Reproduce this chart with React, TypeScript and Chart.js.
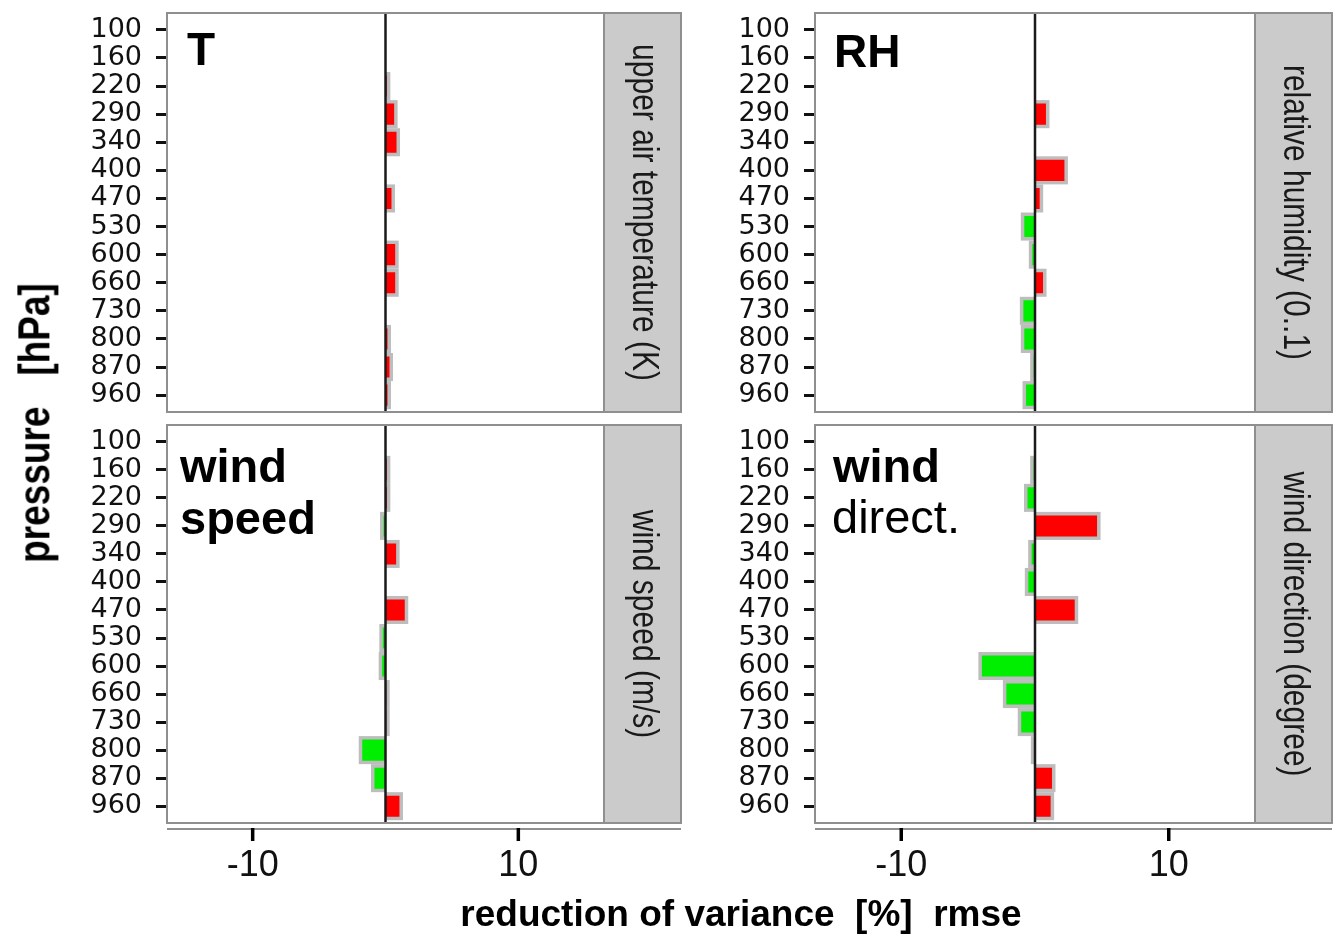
import React, { useEffect, useRef } from "react";
import { Chart, registerables } from "chart.js";

Chart.register(...registerables);

// ---------------- data ----------------
const LEVELS = ["100", "160", "220", "290", "340", "400", "470", "530", "600", "660", "730", "800", "870", "960"];
const T_VALUES: (number | null)[] = [null, null, 0.1, 0.65, 0.83, null, 0.45, null, 0.73, 0.73, null, 0.15, 0.3, 0.15];
const RH_VALUES: (number | null)[] = [null, null, null, 0.82, null, 2.2, 0.35, -0.8, -0.2, 0.6, -0.87, -0.8, -0.1, -0.67];
const WS_VALUES: (number | null)[] = [null, 0.1, 0.1, -0.15, 0.8, null, 1.45, -0.2, -0.25, 0.05, 0.05, -1.75, -0.83, 1.05];
const WD_VALUES: (number | null)[] = [null, -0.1, -0.56, 4.64, -0.25, -0.5, 2.97, null, -3.97, -2.14, -1.03, -0.05, 1.27, 1.17];
const X_TICKS = [-10, 10];
const X_MIN = -16.45;
const X_MAX = 16.45;

// ---------------- style ----------------
const RED = "#ff0000";
const GREEN = "#00ee00";
const HALO = "#bdbdbd";
const BORDER = "#8f8f8f";
const STRIP_FILL = "#cbcbcb";
const TEXT = "#111111";
const FONT = '"Liberation Sans", Arial, sans-serif';

const YAXIS_W = 110;
const STRIP_W = 77;
const TOP_PAD = 40;
const XAXIS_H = 60;
const HALO_W = 3.5;

Chart.defaults.font.family = FONT;

type LabelLine = { text: string; bold: boolean; size: number; dx: number; dy: number };
type PanelCfg = {
  values: (number | null)[];
  strip: string;
  lines: LabelLine[];
  PL: number;
  PT: number;
  PR: number;
  PB: number;
  bottom: boolean;
};

const PANELS: PanelCfg[] = [
  {
    values: T_VALUES,
    strip: "upper air temperature (K)",
    lines: [{ text: "T", bold: true, size: 46, dx: 20, dy: 52 }],
    PL: 167, PT: 13, PR: 604, PB: 412, bottom: false,
  },
  {
    values: RH_VALUES,
    strip: "relative humidity (0..1)",
    lines: [{ text: "RH", bold: true, size: 46, dx: 19, dy: 54 }],
    PL: 815, PT: 13, PR: 1255, PB: 412, bottom: false,
  },
  {
    values: WS_VALUES,
    strip: "wind speed (m/s)",
    lines: [
      { text: "wind", bold: true, size: 47, dx: 13, dy: 57 },
      { text: "speed", bold: true, size: 47, dx: 13, dy: 109 },
    ],
    PL: 167, PT: 425, PR: 604, PB: 823, bottom: true,
  },
  {
    values: WD_VALUES,
    strip: "wind direction (degree)",
    lines: [
      { text: "wind", bold: true, size: 47, dx: 18, dy: 57 },
      { text: "direct.", bold: false, size: 47, dx: 17, dy: 108 },
    ],
    PL: 815, PT: 425, PR: 1255, PB: 823, bottom: true,
  },
];

function geom(p: PanelCfg) {
  const e = (p.PB - p.PT) / 142;
  const left = p.PL - YAXIS_W;
  const top = p.PT - TOP_PAD;
  const width = p.PR - p.PL + YAXIS_W + STRIP_W + 12;
  const height = p.PB - p.PT + TOP_PAD + (p.bottom ? 100 : 40);
  const padBottom = p.bottom ? height - (p.PB - e - top) - XAXIS_H : height - (p.PB - e - top);
  return { e, left, top, width, height, padTop: TOP_PAD + e, padBottom };
}

function panelPlugin(p: PanelCfg) {
  return {
    id: "panelDecor",
    beforeDatasetsDraw(chart: any) {
      const ctx = chart.ctx;
      const meta = chart.getDatasetMeta(0);
      ctx.save();
      ctx.fillStyle = HALO;
      meta.data.forEach((el: any, i: number) => {
        const v = p.values[i];
        if (v == null) return;
        const { x, y, base, height } = el.getProps(["x", "y", "base", "height"], true);
        const s = v >= 0 ? 1 : -1;
        const x1 = x + s * HALO_W;
        ctx.fillRect(Math.min(base, x1), y - height / 2 - HALO_W, Math.abs(x1 - base), height + 2 * HALO_W);
      });
      ctx.restore();
    },
    afterDatasetsDraw(chart: any) {
      const ctx = chart.ctx;
      const ca = chart.chartArea;
      const band = (ca.bottom - ca.top) / LEVELS.length;
      const e = band * 0.1;
      const top = ca.top - e;
      const bot = ca.bottom + e;
      const xs = chart.scales.x;
      ctx.save();

      // zero line
      const x0 = xs.getPixelForValue(0);
      ctx.strokeStyle = "#1a1a1a";
      ctx.lineWidth = 2.5;
      ctx.beginPath();
      ctx.moveTo(x0, top);
      ctx.lineTo(x0, bot);
      ctx.stroke();

      // panel border
      ctx.strokeStyle = BORDER;
      ctx.lineWidth = 2;
      ctx.strokeRect(ca.left, top, ca.right - ca.left, bot - top);

      // strip
      ctx.fillStyle = STRIP_FILL;
      ctx.fillRect(ca.right, top, STRIP_W, bot - top);
      ctx.strokeRect(ca.right, top, STRIP_W, bot - top);

      ctx.save();
      ctx.translate(ca.right + STRIP_W / 2, (top + bot) / 2);
      ctx.rotate(Math.PI / 2);
      ctx.scale(1, 1.2);
      ctx.font = `30px ${FONT}`;
      ctx.fillStyle = "#1a1a1a";
      ctx.textAlign = "center";
      ctx.textBaseline = "middle";
      ctx.fillText(p.strip, 0, 0);
      ctx.restore();

      // panel label
      ctx.fillStyle = "#000";
      ctx.textAlign = "left";
      ctx.textBaseline = "alphabetic";
      p.lines.forEach((l) => {
        ctx.font = `${l.bold ? "bold " : ""}${l.size}px ${FONT}`;
        ctx.fillText(l.text, ca.left + l.dx, top + l.dy);
      });

      // x axis line & ticks (bottom row)
      if (p.bottom) {
        const ay = bot + 6;
        ctx.strokeStyle = BORDER;
        ctx.lineWidth = 2;
        ctx.beginPath();
        ctx.moveTo(ca.left, ay);
        ctx.lineTo(ca.right + STRIP_W, ay);
        ctx.stroke();
        ctx.strokeStyle = "#000";
        ctx.lineWidth = 3.5;
        xs.ticks.forEach((t: any) => {
          const px = xs.getPixelForValue(t.value);
          ctx.beginPath();
          ctx.moveTo(px, ay - 1);
          ctx.lineTo(px, ay + 12);
          ctx.stroke();
        });
      }
      ctx.restore();
    },
  };
}

function PanelChart({ p }: { p: PanelCfg }) {
  const ref = useRef<HTMLCanvasElement>(null);
  const g = geom(p);
  useEffect(() => {
    const canvas = ref.current;
    if (!canvas) return;
    const chart = new Chart(canvas, {
      type: "bar",
      data: {
        labels: LEVELS,
        datasets: [
          {
            data: p.values as any,
            backgroundColor: (c: any) => ((c.raw as number) >= 0 ? RED : GREEN),
            borderWidth: 0,
            categoryPercentage: 1,
            barPercentage: 0.75,
            inflateAmount: 0,
          } as any,
        ],
      },
      options: {
        indexAxis: "y",
        responsive: false,
        maintainAspectRatio: false,
        animation: false,
        events: [],
        layout: { padding: { left: 0, right: STRIP_W + 12, top: g.padTop, bottom: g.padBottom } },
        plugins: { legend: { display: false }, tooltip: { enabled: false }, title: { display: false } },
        scales: {
          y: {
            type: "category",
            offset: true,
            grid: { offset: false, drawOnChartArea: false, drawTicks: true, tickLength: 11, tickWidth: 3, tickColor: "#111" },
            border: { display: false },
            ticks: { autoSkip: false, padding: 14, color: TEXT, font: { family: "DejaVu Sans", size: 27 } },
            afterFit: (s: any) => {
              s.width = YAXIS_W;
            },
          },
          x: {
            type: "linear",
            min: X_MIN,
            max: X_MAX,
            display: p.bottom,
            grid: { display: false, drawTicks: false, drawOnChartArea: false },
            border: { display: false },
            afterBuildTicks: (s: any) => {
              s.ticks = X_TICKS.map((v) => ({ value: v }));
            },
            ticks: { autoSkip: false, maxRotation: 0, padding: 24, color: TEXT, font: { family: FONT, size: 36 } },
            afterFit: (s: any) => {
              s.height = p.bottom ? XAXIS_H : 0;
            },
          },
        },
      } as any,
      plugins: [panelPlugin(p)],
    });
    return () => chart.destroy();
  }, []);
  return (
    <canvas
      ref={ref}
      width={g.width}
      height={g.height}
      style={{ position: "absolute", left: g.left, top: g.top, width: g.width, height: g.height }}
    />
  );
}

export default function App() {
  return (
    <div
      style={{
        position: "absolute",
        left: 0,
        top: 0,
        width: 1338,
        height: 938,
        background: "#fff",
        overflow: "hidden",
      }}
    >
      {PANELS.map((p, i) => (
        <PanelChart key={i} p={p} />
      ))}
      <div
        style={{
          position: "absolute",
          left: 741,
          top: 895,
          transform: "translateX(-50%)",
          font: `bold 37px ${FONT}`,
          lineHeight: "37px",
          whiteSpace: "pre",
          color: "#000",
        }}
      >
        reduction of variance  [%]  rmse
      </div>
      <div
        style={{
          position: "absolute",
          left: 34,
          top: 423,
          transform: "translate(-50%, -50%) rotate(-90deg) scaleY(1.2)",
          font: `bold 37px ${FONT}`,
          lineHeight: "37px",
          whiteSpace: "pre",
          color: "#000",
        }}
      >
        pressure   [hPa]
      </div>
    </div>
  );
}
